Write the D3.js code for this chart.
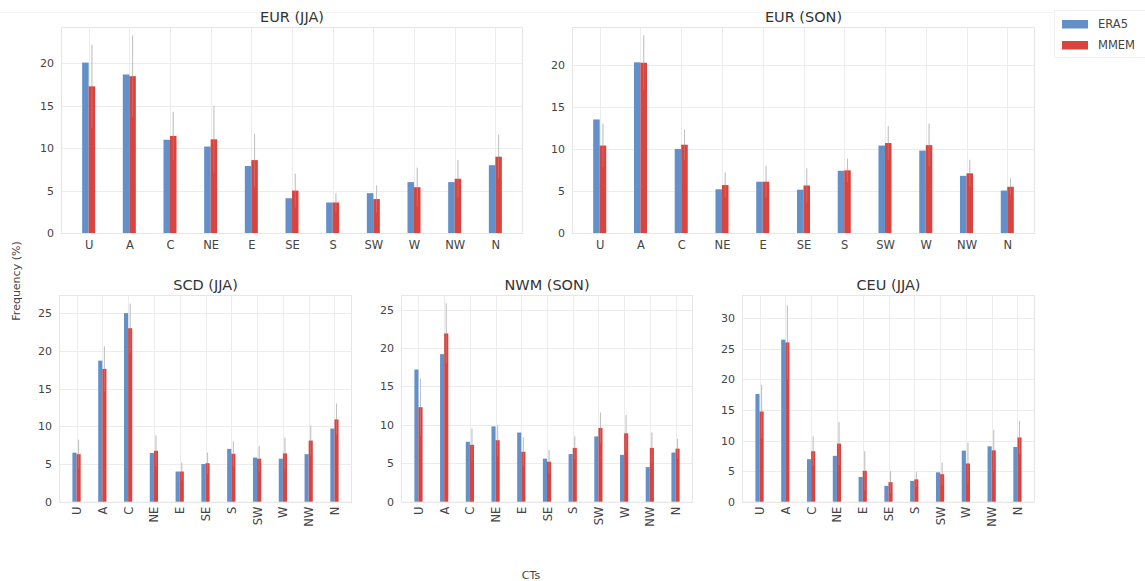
<!DOCTYPE html>
<html>
<head>
<meta charset="utf-8">
<script src="https://cdn.jsdelivr.net/npm/d3@7"></script>
<style>
  html, body { margin: 0; padding: 0; background: #fff; }
  svg { display: block; font-family: "DejaVu Sans", sans-serif; }
</style>
</head>
<body>
<svg id="chart" width="1145" height="581"></svg>
<script>
// ---------- DATA ----------
const categories = ["U", "A", "C", "NE", "E", "SE", "S", "SW", "W", "NW", "N"];
const seriesNames = ["ERA5", "MMEM"];
const panelTitles = ["EUR (JJA)", "EUR (SON)", "SCD (JJA)", "NWM (SON)", "CEU (JJA)"];

const era5_EUR_JJA = [20.1, 18.7, 11.0, 10.2, 7.9, 4.1, 3.6, 4.7, 6.0, 6.0, 8.0];
const mmem_EUR_JJA = [17.3, 18.5, 11.45, 11.05, 8.6, 5.0, 3.6, 4.0, 5.4, 6.4, 9.0];
const err_EUR_JJA  = [4.9, 4.8, 2.85, 3.95, 3.1, 2.0, 1.1, 1.6, 2.3, 2.2, 2.6];

const era5_EUR_SON = [13.5, 20.3, 10.0, 5.2, 6.1, 5.15, 7.4, 10.4, 9.8, 6.8, 5.05];
const mmem_EUR_SON = [10.4, 20.25, 10.5, 5.7, 6.1, 5.65, 7.45, 10.7, 10.45, 7.1, 5.5];
const err_EUR_SON  = [2.6, 3.25, 1.8, 1.5, 1.9, 2.05, 1.4, 2.0, 2.55, 1.6, 1.0];

const era5_SCD_JJA = [6.5, 18.7, 25.0, 6.45, 4.0, 5.0, 7.0, 5.85, 5.7, 6.3, 9.7];
const mmem_SCD_JJA = [6.3, 17.6, 23.0, 6.75, 4.0, 5.1, 6.35, 5.7, 6.4, 8.1, 10.9];
const err_SCD_JJA  = [1.9, 3.0, 3.25, 2.05, 1.2, 1.4, 1.65, 1.7, 2.1, 2.0, 2.1];

const era5_NWM_SON = [17.2, 19.2, 7.8, 9.8, 9.0, 5.6, 6.2, 8.5, 6.1, 4.5, 6.4];
const mmem_NWM_SON = [12.3, 21.9, 7.4, 8.0, 6.5, 5.2, 7.0, 9.6, 8.9, 7.0, 6.9];
const err_NWM_SON  = [3.7, 3.9, 2.1, 2.0, 1.9, 1.5, 1.5, 2.0, 2.4, 2.0, 1.3];

const era5_CEU_JJA = [17.6, 26.5, 6.95, 7.5, 4.05, 2.6, 3.4, 4.8, 8.35, 9.05, 8.95];
const mmem_CEU_JJA = [14.75, 26.05, 8.25, 9.5, 5.05, 3.2, 3.65, 4.5, 6.25, 8.4, 10.5];
const err_CEU_JJA  = [4.35, 6.05, 2.45, 3.5, 3.2, 1.8, 1.25, 1.9, 3.4, 3.3, 2.7];

const yMaxes = [24.3, 24.5, 27.4, 26.9, 33.8];
const yTickStep = 5;

const yAxisLabel = "Frequency (%)";
const xAxisLabel = "CTs";

// ---------- LAYOUT ----------
const layout = [
  { x0: 61,  x1: 523,  y0: 27,  y1: 233,   rotate: false },
  { x0: 572, x1: 1035, y0: 27,  y1: 233,   rotate: false },
  { x0: 59,  x1: 352,  y0: 295, y1: 501.7, rotate: true },
  { x0: 401, x1: 693,  y0: 295, y1: 501.7, rotate: true },
  { x0: 742, x1: 1035, y0: 295, y1: 501.7, rotate: true }
];

const panels = [
  { era5: era5_EUR_JJA, mmem: mmem_EUR_JJA, err: err_EUR_JJA },
  { era5: era5_EUR_SON, mmem: mmem_EUR_SON, err: err_EUR_SON },
  { era5: era5_SCD_JJA, mmem: mmem_SCD_JJA, err: err_SCD_JJA },
  { era5: era5_NWM_SON, mmem: mmem_NWM_SON, err: err_NWM_SON },
  { era5: era5_CEU_JJA, mmem: mmem_CEU_JJA, err: err_CEU_JJA }
];

const colors = { ERA5: "#6390c8", MMEM: "#d9443f" };
const gridColor = "#ececec";
const textColor = "#444";

const svg = d3.select("#chart");

// faint top rule
svg.append("line").attr("x1", 0).attr("x2", 1145).attr("y1", 12.5).attr("y2", 12.5)
  .attr("stroke", "#f3f3f3").attr("stroke-width", 1);

panels.forEach((p, i) => {
  const L = layout[i];
  const x = d3.scalePoint().domain(categories).range([L.x0, L.x1]).padding(0.68);
  const y = d3.scaleLinear().domain([0, yMaxes[i]]).range([L.y1, L.y0]);
  const step = x.step();
  const bw = step * 0.16;
  const g = svg.append("g");

  // grid
  const yt = d3.range(0, yMaxes[i], yTickStep);
  g.selectAll(".hg").data(yt).enter().append("line")
    .attr("x1", L.x0).attr("x2", L.x1)
    .attr("y1", d => Math.round(y(d)) + 0.5).attr("y2", d => Math.round(y(d)) + 0.5)
    .attr("stroke", gridColor).attr("stroke-width", 1);
  g.selectAll(".vg").data(categories).enter().append("line")
    .attr("x1", d => Math.round(x(d)) + 0.5).attr("x2", d => Math.round(x(d)) + 0.5)
    .attr("y1", L.y0).attr("y2", L.y1)
    .attr("stroke", gridColor).attr("stroke-width", 1);

  // frame
  g.append("rect").attr("x", L.x0 + 0.5).attr("y", L.y0 + 0.5)
    .attr("width", L.x1 - L.x0 - 1).attr("height", L.y1 - L.y0)
    .attr("fill", "none").attr("stroke", "#e6e6e6").attr("stroke-width", 1);

  // error bars (behind bars)
  const ex = d => x(d) + bw / 2;
  g.selectAll(".eb").data(categories).enter().append("line")
    .attr("x1", ex).attr("x2", ex)
    .attr("y1", (d, k) => y(Math.max(0, p.mmem[k] - p.err[k])))
    .attr("y2", (d, k) => y(p.mmem[k] + p.err[k]))
    .attr("stroke", "#c4c4c4").attr("stroke-width", 1);

  // bars
  g.selectAll(".b1").data(categories).enter().append("rect")
    .attr("x", d => x(d) - bw).attr("width", bw)
    .attr("y", (d, k) => y(p.era5[k])).attr("height", (d, k) => y(0) - y(p.era5[k]))
    .attr("fill", colors.ERA5);
  g.selectAll(".b2").data(categories).enter().append("rect")
    .attr("x", d => x(d)).attr("width", bw)
    .attr("y", (d, k) => y(p.mmem[k])).attr("height", (d, k) => y(0) - y(p.mmem[k]))
    .attr("fill", colors.MMEM);

  // faint overlay of error bars through the bars
  g.selectAll(".eb2").data(categories).enter().append("line")
    .attr("x1", ex).attr("x2", ex)
    .attr("y1", (d, k) => y(Math.max(0, p.mmem[k] - p.err[k])))
    .attr("y2", (d, k) => y(p.mmem[k] + p.err[k]))
    .attr("stroke", "#bbbbbb").attr("stroke-width", 1).attr("opacity", 0.3);

  // y axis labels
  const yAxis = d3.axisLeft(y).tickValues(yt).tickSize(0).tickPadding(7).tickFormat(d3.format("d"));
  const ya = g.append("g").attr("transform", `translate(${L.x0},0)`).call(yAxis);
  ya.select(".domain").remove();
  ya.selectAll("text").attr("fill", textColor).style("font-size", "11px")
    .style("font-family", "DejaVu Sans, sans-serif");

  // x axis labels
  const xAxis = d3.axisBottom(x).tickSize(0).tickPadding(L.rotate ? 5 : 8);
  const xa = g.append("g").attr("transform", `translate(0,${L.y1})`).call(xAxis);
  xa.select(".domain").remove();
  xa.selectAll("text").attr("fill", textColor).style("font-size", "11.5px")
    .style("font-family", "DejaVu Sans, sans-serif");
  if (L.rotate) {
    xa.selectAll("text")
      .attr("transform", "rotate(-90)")
      .attr("text-anchor", "end")
      .attr("dy", "0.35em")
      .attr("x", -5).attr("y", 0);
  }

  // title
  g.append("text").attr("x", (L.x0 + L.x1) / 2).attr("y", L.y0 - 5)
    .attr("text-anchor", "middle").attr("fill", "#333")
    .style("font-size", "14.5px").text(panelTitles[i]);
});

// axis labels
svg.append("text").attr("transform", "translate(20,281) rotate(-90)")
  .attr("text-anchor", "middle").attr("fill", textColor).style("font-size", "11px").text(yAxisLabel);
svg.append("text").attr("x", 531).attr("y", 579)
  .attr("text-anchor", "middle").attr("fill", textColor).style("font-size", "11px").text(xAxisLabel);

// legend
const lg = svg.append("g");
lg.append("rect").attr("x", 1054.5).attr("y", 10.5).attr("width", 100).attr("height", 47)
  .attr("fill", "#fff").attr("stroke", "#f0f0f0");
seriesNames.forEach((s, k) => {
  const cy = 24 + k * 21;
  lg.append("rect").attr("x", 1062).attr("y", cy - 4).attr("width", 26).attr("height", 8.5)
    .attr("fill", colors[s]);
  lg.append("text").attr("x", 1098).attr("y", cy).attr("dy", "0.35em")
    .attr("fill", textColor).style("font-size", "11.5px").text(s);
});
</script>
</body>
</html>
